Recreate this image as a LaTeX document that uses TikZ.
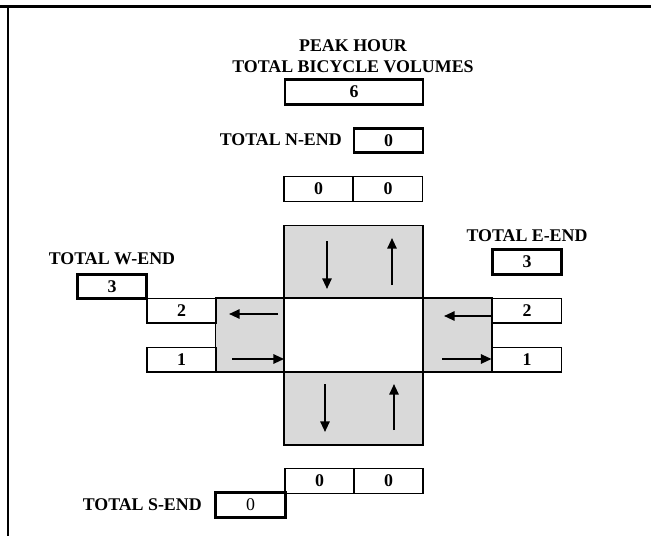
\documentclass[tikz,border=0pt]{standalone}
\usepackage{fontspec}
\setmainfont{Liberation Serif}
\usetikzlibrary{arrows.meta,calc}

\begin{document}
\begin{tikzpicture}[
    x=0.75pt,y=-0.75pt,
    >={Triangle[length=8pt,width=7pt]},
    every node/.style={font=\fontsize{13.4}{16}\selectfont\bfseries},
    frame/.style={line width=2pt},
    count/.style={draw,line width=1.1pt,fill=white,inner sep=0pt,
      minimum width=51.75pt,minimum height=18.4pt},
    total/.style={count,line width=2.1pt},
    lane/.style={draw,line width=1.1pt,fill=black!15,inner sep=0pt,
      minimum width=104.25pt,minimum height=55pt},
    sidelane/.style={lane,minimum width=51.5pt,minimum height=55.5pt},
    middle/.style={draw,line width=1.2pt,fill=white,inner sep=0pt,
      minimum width=104.25pt,minimum height=55.5pt},
    move/.style={->,line width=1.4pt},
    endlabel/.style={inner sep=0pt}
  ]
    \useasboundingbox (0,0) rectangle (651,536);
    \draw[frame] (0,6.3) -- (651,6.3);
    \draw[frame] (8,6.3) -- (8,536);

    % title and grand total
    \node[endlabel,align=center] (title) at (353,56) {PEAK HOUR\\TOTAL BICYCLE VOLUMES};
    \node[total,minimum width=103.5pt] (grand) at (354,92) {6};

    % north end
    \node[endlabel,anchor=east] (nlabel) at (342,140) {TOTAL N-END};
    \node[total] (ntotal) at (388.5,140.5) {0};
    \node[count] (nout) at (318.5,189) {0};
    \node[count] (nin) at (388,189) {0};

    % lanes round the crossing
    \node[lane] (nlane) at (353.5,262) {};
    \node[lane] (slane) at (353.5,408.5) {};
    \node[sidelane] (wlane) at (250,335) {};
    \node[sidelane] (elane) at (457.5,335) {};
    \node[middle] (centre) at (353.5,335) {};

    % west end
    \node[endlabel] (wlabel) at (112,259) {TOTAL W-END};
    \node[total] (wtotal) at (112,286.5) {3};
    \node[count] (wout) at (181.5,310.5) {2};
    \node[count] (win) at (181.5,359.5) {1};

    % east end
    \node[endlabel] (elabel) at (527,236) {TOTAL E-END};
    \node[total] (etotal) at (527,262) {3};
    \node[count] (ein) at (527,310.5) {2};
    \node[count] (eout) at (527,359.5) {1};

    % south end
    \node[count] (sin) at (319.5,481) {0};
    \node[count] (sout) at (388.5,481) {0};
    \node[endlabel,anchor=east] (slabel) at (202,505) {TOTAL S-END};
    \node[total,font=\fontsize{13.4}{16}\selectfont\mdseries,minimum width=53pt] (stotal) at (250.5,505) {0};

    % movements
    \draw[move] ($(nlane.center)+(-26.5,-21)$) -- ($(nlane.center)+(-26.5,27)$);
    \draw[move] ($(nlane.center)+(38.5,23)$) -- ($(nlane.center)+(38.5,-24)$);
    \draw[move] ($(slane.center)+(-28.5,-24.5)$) -- ($(slane.center)+(-28.5,23.5)$);
    \draw[move] ($(slane.center)+(40.5,21.5)$) -- ($(slane.center)+(40.5,-24.5)$);
    \draw[move] ($(wlane.center)+(28,-21)$) -- ($(wlane.center)+(-21,-21)$);
    \draw[move] ($(wlane.center)+(-18,24)$) -- ($(wlane.east)+(-1,24)$);
    \draw[move] ($(elane.east)+(0,-19)$) -- ($(elane.center)+(-13.5,-19)$);
    \draw[move] ($(elane.center)+(-15.5,24)$) -- ($(elane.east)+(-1,24)$);
  \end{tikzpicture}
\end{document}
